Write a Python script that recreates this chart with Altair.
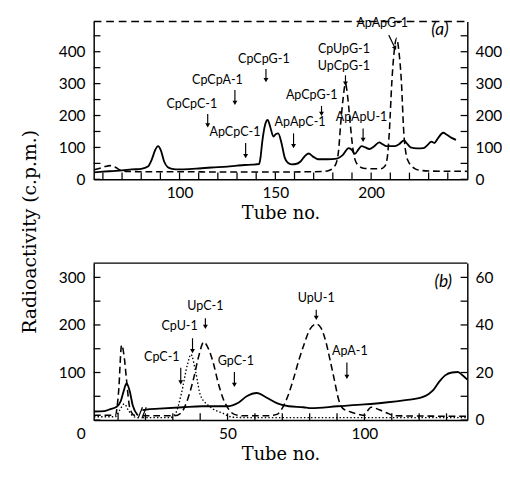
import altair as alt
import pandas as pd

# ---------------- panel (a) data ----------------
a_solid_tube = [55.5, 60, 65, 70, 75, 80, 83.5, 85.5, 87.3, 88.8, 90.3, 92, 93.9, 96,
                100, 105, 110, 116.7, 125, 130, 134, 138,
                141.5, 142.3, 143.1, 144.8, 146, 147.3, 149, 150.3, 151.5, 153.2, 154.9, 156.5, 158.5,
                160.7, 163, 165, 167.4, 169.5, 172.2, 177, 182.2, 185,
                188.3, 190, 191.5, 193.5, 195, 197, 199, 201.5, 204.2, 206, 208,
                212.2, 214.5, 217.2, 219, 220.6, 224, 227.3, 229.5, 231.4, 233, 235, 237.6, 239.5, 242, 244.3]
a_solid_cpm = [22, 24, 26, 28, 31, 33, 40, 62, 92, 104, 90, 55, 38, 33,
               31, 32, 34, 37, 40, 43, 45, 46,
               48, 70, 114, 174, 186, 165, 134, 142, 144, 114, 68, 52, 47,
               48, 55, 70, 81, 72, 63, 63, 65, 75,
               98, 92, 80, 95, 104, 100, 95, 103, 116, 110, 104,
               104, 110, 122, 110, 100, 97, 98, 108, 118, 114, 130, 146, 140, 130, 124]

a_dash_tube = [55.5, 58, 61, 63.7, 66.5, 69, 72,
               80, 100, 120, 150, 170, 175, 178,
               180.5, 182, 183, 184.1, 185.3, 186.6, 187.9, 189.1, 190, 190.8, 192,
               194.1, 196, 200, 205, 207, 208.3, 209.5, 210.8, 212, 213.3,
               214.5, 215.8, 217, 218.2, 219.5, 220.9, 223, 226, 230, 250]
a_dash_cpm = [30, 34, 40, 43, 38, 29, 25,
              24, 24, 23, 23, 24, 25, 28,
              38, 55, 90, 174, 250, 300, 250, 174, 120, 83, 55,
              40, 35, 33, 33, 40, 63, 150, 305, 400, 442,
              400, 305, 150, 80, 55, 43, 33, 28, 26, 25]

a_labels = ["CpCpC-1", "CpCpA-1", "CpCpG-1", "ApCpC-1", "ApApC-1", "ApCpG-1",
            "CpUpG-1", "UpCpG-1", "ApApU-1", "ApApG-1"]
a_label_tube = [106.4, 119.8, 144, 128.9, 162.9, 169, 185.8, 185.8, 195, 205.8]
a_label_cpm = [237, 311, 376, 149, 179, 265, 407, 356, 195, 490]

a_arrow_tube = [114.7, 128.9, 145.1, 134.5, 159.5, 174.1, 186.6, 195.8]
a_arrow_top = [205, 280, 346, 114, 144, 230, 326, 159]
a_arrow_tip = [169, 240, 311, 73, 104, 205, 300, 124]

a_diag_tube = [209.2]
a_diag_tube2 = [212.5]
a_diag_top = [452]
a_diag_tip = [411]

a_tag = ["(a)"]
a_tag_tube = [235.9]
a_tag_cpm = [467]

a_xticks = list(range(60, 250, 10))
a_yticks = list(range(0, 500, 50))

# ---------------- panel (b) data ----------------
b_solid_tube = [1.2, 5, 7.2, 9.5, 11, 12, 13.1, 14.2, 15.4, 17.2,
                18.9, 20.2, 25, 33.7, 40.7, 49.5, 54.1, 57, 60.7, 64,
                68.2, 72.4, 77.7, 80.6, 90.1, 100, 107.7, 115, 120.6, 123.5,
                125.3, 127.5, 129.5, 132, 134.1, 135.5, 137.6]
b_solid_cpm = [18, 19, 23, 28, 40, 60, 77, 62, 30, 10,
               21, 22, 24, 27, 29, 29, 37, 50, 57, 48,
               35, 29, 27, 25, 29, 33, 37, 42, 47, 55,
               64, 82, 94, 100, 101, 96, 85]
b_solid_seg = [1] * 10 + [2] * 27

b_dash_tube = [1.2, 9, 10.2, 11.3, 12.3, 13.1, 14.3, 16, 17.2,
               19, 30.5, 33, 35.5, 37.5, 39.5, 41.3, 43, 44.8, 46.5, 48.4, 50.5, 52.5, 56,
               65, 68, 70, 72, 74, 76, 78, 80, 82.4, 84, 85.9, 87.5, 89, 90.5, 92, 95, 98,
               100, 101.5, 102.4, 104, 106.5, 109, 111, 137.6]
b_dash_right = [2.0, 2.0, 12, 31.6, 26, 16.8, 5, 2, 2,
                1.8, 1.8, 3, 9, 17, 27, 32.8, 30, 24, 16, 9, 4.4, 2.4, 1.8,
                1.8, 2.4, 5, 10, 17, 25, 32, 38, 40.4, 39, 33, 25, 17, 9, 5, 3.4, 2.4,
                2, 4.4, 5.4, 5, 3.8, 2.6, 1.8, 1.6]
b_dash_seg = [1] * 9 + [2] * 39

b_dot_tube = [1.2, 9, 10.5, 12.3, 13.8, 15.8, 17.2,
              19, 29, 31, 33.1, 35.4, 36.6, 38.4, 40.1, 43.6, 48.4, 51.9, 60, 137.6]
b_dot_right = [1.4, 1.4, 4, 6.8, 4, 1.4, 1.0,
               1.0, 1.0, 2.8, 11, 23.6, 27.6, 20, 10.4, 5.6, 2.8, 1.2, 1.0, 1.0]
b_dot_seg = [1] * 7 + [2] * 13

b_labels = ["CpC-1", "CpU-1", "UpC-1", "GpC-1", "UpU-1", "ApA-1"]
b_label_tube = [26, 32.5, 41.9, 53, 82.4, 94.7]
b_label_cpm = [133, 197, 240, 124, 256, 145]

b_arrow_tube = [32.9, 37.2, 41.9, 52.5, 82.4, 93.6]
b_arrow_top = [110, 172, 214, 101, 232, 121]
b_arrow_tip = [79, 145, 196, 74, 215, 91]

b_tag = ["(b)"]
b_tag_tube = [128.8]
b_tag_cpm = [290]

b_break_tube = [17.3, 18.7]
b_break_tube2 = [18.9, 20.3]
b_break_low = [3.6, 3.6]
b_break_high = [27, 27]

b_xticks = list(range(10, 140, 10))
b_yticks = list(range(0, 331, 50))
b_origin = ["0"]

# ---------------- styling ----------------
W = 388
HA = 164
HB = 163
SANS = "Lato"
SERIF = "DejaVu Serif"
TICK = 7

one = pd.DataFrame({"k": [0]})


def panel(xs, ys, ys_right, solid, dashed, dotted, lab, arr, tag, xt, yt, H,
          x_axis, y_axis, yr_axis, top_dash, extras):
    X = lambda ax=None: (alt.X("tube:Q", scale=xs, axis=ax) if ax is not None
                         else alt.X("tube:Q", scale=xs))
    Y = lambda: alt.Y("cpm:Q", scale=ys)

    layers = []
    layers.append(
        alt.Chart(solid).mark_line(color="black", strokeWidth=1.9, interpolate="monotone")
        .encode(x=X(x_axis), y=alt.Y("cpm:Q", scale=ys, axis=y_axis), detail="seg:N")
    )
    # inward ticks
    layers.append(alt.Chart(xt).mark_rule(color="black", strokeWidth=1.3).encode(
        x=X(), y=alt.value(H), y2=alt.value(H - TICK)))
    layers.append(alt.Chart(yt).mark_rule(color="black", strokeWidth=1.3).encode(
        y=Y(), x=alt.value(0), x2=alt.value(TICK)))
    layers.append(alt.Chart(yt).mark_rule(color="black", strokeWidth=1.3).encode(
        y=Y(), x=alt.value(W - TICK), x2=alt.value(W)))
    # top border
    if top_dash:
        layers.append(alt.Chart(one).mark_rule(color="black", strokeWidth=1.5, strokeDash=[8, 5]).encode(
            x=alt.value(0), x2=alt.value(W), y=alt.value(0)))
    else:
        layers.append(alt.Chart(one).mark_rule(color="black", strokeWidth=1.5).encode(
            x=alt.value(0), x2=alt.value(W), y=alt.value(0)))
    # annotations
    layers.append(alt.Chart(lab).mark_text(font=SANS, fontSize=13, color="black").encode(
        x=X(), y=Y(), text="label:N"))
    layers.append(alt.Chart(arr).mark_rule(color="black", strokeWidth=1.2).encode(
        x=X(), y=Y(), y2="tip:Q"))
    layers.append(alt.Chart(arr).mark_point(shape="triangle-down", filled=True, size=26,
                                            color="black", opacity=1).encode(
        x=X(), y=alt.Y("tip:Q", scale=ys)))
    layers.append(alt.Chart(tag).mark_text(font=SANS, fontSize=18, fontStyle="italic",
                                           color="black").encode(
        x=X(), y=Y(), text="label:N"))
    for e in extras:
        layers.append(e(X, Y))

    left = alt.layer(*layers)

    right_layers = [
        alt.Chart(dashed).mark_line(color="black", strokeWidth=1.6, strokeDash=[7, 4],
                                    interpolate="monotone")
        .encode(x=X(), y=alt.Y("cpm:Q", scale=ys_right, axis=yr_axis), detail="seg:N")
    ]
    if dotted is not None:
        right_layers.append(
            alt.Chart(dotted).mark_line(color="black", strokeWidth=1.4, strokeDash=[1.5, 2.2],
                                        interpolate="monotone")
            .encode(x=X(), y=alt.Y("cpm:Q", scale=ys_right), detail="seg:N"))
    right = alt.layer(*right_layers)
    return alt.layer(left, right).resolve_scale(y="independent").properties(width=W, height=H)


# ---- panel a frames
a_solid = pd.DataFrame({"tube": a_solid_tube, "cpm": a_solid_cpm, "seg": 1})
a_dash = pd.DataFrame({"tube": a_dash_tube, "cpm": a_dash_cpm, "seg": 1})
a_lab = pd.DataFrame({"tube": a_label_tube, "cpm": a_label_cpm, "label": a_labels})
a_arr = pd.DataFrame({"tube": a_arrow_tube, "cpm": a_arrow_top, "tip": a_arrow_tip})
a_tagdf = pd.DataFrame({"tube": a_tag_tube, "cpm": a_tag_cpm, "label": a_tag})
a_xt = pd.DataFrame({"tube": a_xticks})
a_yt = pd.DataFrame({"cpm": a_yticks})
a_diag = pd.DataFrame({"tube": a_diag_tube, "tube2": a_diag_tube2, "cpm": a_diag_top, "tip": a_diag_tip})

xa = alt.Scale(domain=[55.2, 250.2], nice=False, zero=False)
ya = alt.Scale(domain=[0, 495], nice=False)
ya_r = alt.Scale(domain=[0, 495], nice=False)


def diag_rule(X, Y):
    return alt.Chart(a_diag).mark_rule(color="black", strokeWidth=1.2).encode(
        x=X(), x2="tube2:Q", y=Y(), y2="tip:Q")


def diag_head(X, Y):
    return alt.Chart(a_diag).mark_point(shape="triangle-down", filled=True, size=26, angle=333,
                                        color="black", opacity=1).encode(
        x=alt.X("tube2:Q", scale=xa), y=alt.Y("tip:Q", scale=ya))


axis_xa = alt.Axis(values=[100, 150, 200], title="Tube no.", labelPadding=6, titlePadding=4)
axis_ya = alt.Axis(values=[0, 100, 200, 300, 400], labelPadding=9,
                   title="Radioactivity (c.p.m.)", titleAngle=270, titleX=-75, titleY=218,
                   titleAlign="center", titleBaseline="top", titleFontSize=19.5)
axis_ya_r = alt.Axis(orient="right", values=[0, 100, 200, 300, 400], labelPadding=8, title=None)

panel_a = panel(xa, ya, ya_r, a_solid, a_dash, None, a_lab, a_arr, a_tagdf, a_xt, a_yt, HA,
                axis_xa, axis_ya, axis_ya_r, True, [diag_rule, diag_head])

# ---- panel b frames
b_solid = pd.DataFrame({"tube": b_solid_tube, "cpm": b_solid_cpm, "seg": b_solid_seg})
b_dash = pd.DataFrame({"tube": b_dash_tube, "cpm": b_dash_right, "seg": b_dash_seg})
b_dot = pd.DataFrame({"tube": b_dot_tube, "cpm": b_dot_right, "seg": b_dot_seg})
b_lab = pd.DataFrame({"tube": b_label_tube, "cpm": b_label_cpm, "label": b_labels})
b_arr = pd.DataFrame({"tube": b_arrow_tube, "cpm": b_arrow_top, "tip": b_arrow_tip})
b_tagdf = pd.DataFrame({"tube": b_tag_tube, "cpm": b_tag_cpm, "label": b_tag})
b_xt = pd.DataFrame({"tube": b_xticks})
b_yt = pd.DataFrame({"cpm": b_yticks})
b_brk = pd.DataFrame({"tube": b_break_tube, "tube2": b_break_tube2, "cpm": b_break_low, "hi": b_break_high})
b_orig = pd.DataFrame({"label": b_origin})

xb = alt.Scale(domain=[1.1, 137.6], nice=False, zero=False)
yb = alt.Scale(domain=[0, 330], nice=False)
yb_r = alt.Scale(domain=[0, 66], nice=False)


def break_marks(X, Y):
    return alt.Chart(b_brk).mark_rule(color="black", strokeWidth=1.3).encode(
        x=X(), x2="tube2:Q", y=Y(), y2="hi:Q")


def origin_label(X, Y):
    return alt.Chart(b_orig).mark_text(font=SANS, fontSize=16, color="black").encode(
        x=alt.value(-13), y=alt.value(HB + 15), text="label:N")


axis_xb = alt.Axis(values=[50, 100], title="Tube no.", labelPadding=6, titlePadding=4)
axis_yb = alt.Axis(values=[100, 200, 300], labelPadding=9, title=None)
axis_yb_r = alt.Axis(orient="right", values=[0, 20, 40, 60], labelPadding=8, title=None)

panel_b = panel(xb, yb, yb_r, b_solid, b_dash, b_dot, b_lab, b_arr, b_tagdf, b_xt, b_yt, HB,
                axis_xb, axis_yb, axis_yb_r, False, [break_marks, origin_label])

chart = alt.vconcat(panel_a, panel_b, spacing=87, bounds="flush").properties(
    padding={"left": 13, "top": 0, "right": 0, "bottom": 0}
).configure_view(strokeWidth=0).configure_axis(
    labelFont=SANS, labelFontSize=16, labelColor="black",
    titleFont=SERIF, titleFontSize=18.5, titleFontWeight="normal", titleColor="black",
    domain=True, domainColor="black", domainWidth=1.5, ticks=False, grid=False,
)

chart.save("out.html", embed_options={"renderer": "svg", "actions": False})
